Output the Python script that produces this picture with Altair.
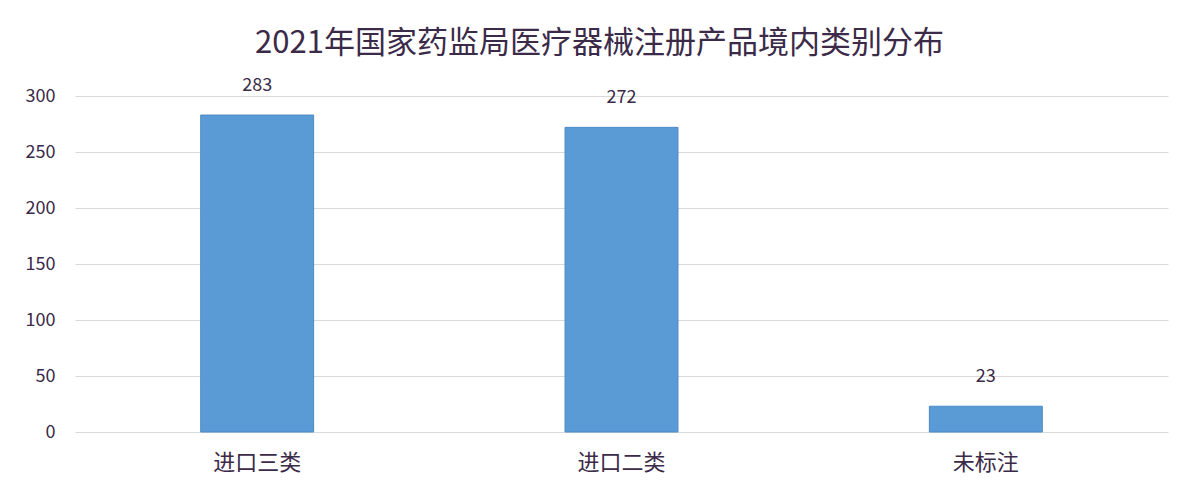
import altair as alt
import pandas as pd

categories = ["进口三类", "进口二类", "未标注"]
counts = [283, 272, 23]
title_text = "2021年国家药监局医疗器械注册产品境内类别分布"

df = pd.DataFrame({"category": categories, "count": counts})

FONT = "Noto Sans CJK SC"
TXT = "#3b2a48"

base = alt.Chart(df).encode(
    x=alt.X("category:N", sort=categories,
            scale=alt.Scale(paddingInner=0.69, paddingOuter=0.345),
            axis=alt.Axis(title=None, labelAngle=0, labelFontSize=22, labelColor=TXT,
                          labelFont=FONT, labelPadding=20, ticks=False, domain=False,
                          grid=False)),
    y=alt.Y("count:Q", scale=alt.Scale(domain=[0, 300], nice=False),
            axis=alt.Axis(title=None, values=[0, 50, 100, 150, 200, 250, 300],
                          labelFontSize=18, labelColor=TXT, labelFont=FONT,
                          labelPadding=20, ticks=False, domain=False,
                          gridColor="#d9d9d9", gridWidth=1)),
)

bars = base.mark_bar(color="#5b9bd5", stroke="#4a8bc8", strokeWidth=1)
labels = base.mark_text(baseline="bottom", dy=-20, fontSize=18, color=TXT, font=FONT).encode(
    text="count:Q")

chart = (bars + labels).properties(
    width=1093, height=336,
    title=alt.TitleParams(title_text, fontSize=31, font=FONT, fontWeight="normal",
                          color=TXT, anchor="middle", offset=17, dx=-22),
    autosize=alt.AutoSizeParams(type="none"),
    padding={"left": 67, "top": 88, "right": 24, "bottom": 50},
    background="white",
).configure_view(stroke="transparent", strokeWidth=0)

chart.save("out.html", embed_options={"renderer": "svg", "actions": False})
